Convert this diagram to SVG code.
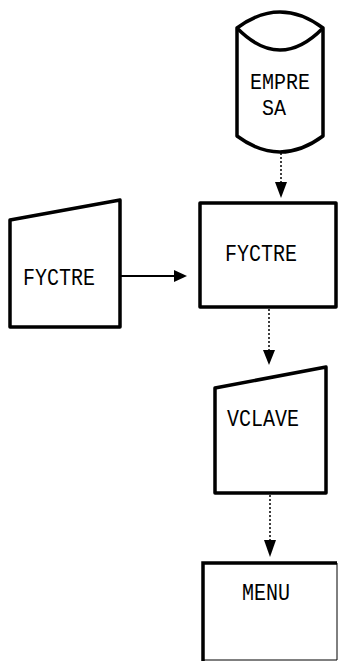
<svg xmlns="http://www.w3.org/2000/svg" width="339" height="661" viewBox="0 0 339 661">
<style>
.shape{fill:#fff;stroke:#000;stroke-width:3.5;stroke-linejoin:round}
.lbl{font-family:"Liberation Mono","DejaVu Sans Mono",monospace;font-size:20px;fill:#000}
.dot{stroke:#000;stroke-width:1.5;stroke-dasharray:2,2;fill:none}
.solid{stroke:#000;stroke-width:2;fill:none}
.head{fill:#000}
</style>
<rect width="339" height="661" fill="#fff"/>
<g id="empresa">
<path class="shape" d="M237,28 Q280,-4 323,28 L323,136 Q280,168 237,136 Z"/>
<path class="shape" d="M237,28 Q280,72 323,28" fill="none"/>
<text class="lbl" transform="translate(250,89) scale(1,1.1)">EMPRE</text>
<text class="lbl" transform="translate(262,115) scale(1,1.1)">SA</text>
</g>
<g id="fyctre-in">
<polygon class="shape" points="10,220 120,200 120,327 10,327"/>
<text class="lbl" transform="translate(23,285) scale(1,1.2)">FYCTRE</text>
</g>
<g id="fyctre">
<rect class="shape" x="200" y="203" width="136" height="104"/>
<text class="lbl" transform="translate(225,261) scale(1,1.2)">FYCTRE</text>
</g>
<g id="vclave">
<polygon class="shape" points="215,388 326,367 326,493 215,493"/>
<text class="lbl" transform="translate(227,426) scale(1,1.2)">VCLAVE</text>
</g>
<g id="menu">
<rect x="203" y="563" width="134" height="97" fill="#fff"/>
<path d="M203,661 L203,563 L337,563" fill="none" stroke="#000" stroke-width="3.5"/>
<path d="M337,563 L337,660 L203,660" fill="none" stroke="#000" stroke-width="1"/>
<text class="lbl" transform="translate(242,600) scale(1,1.2)">MENU</text>
</g>
<g id="connectors">
<line class="dot" x1="281" y1="153" x2="281" y2="183"/>
<polygon class="head" points="275,182 287,182 281,198"/>
<line class="solid" x1="120" y1="276" x2="176" y2="276"/>
<polygon class="head" points="174,270 174,282 187,276"/>
<line class="dot" x1="269" y1="309" x2="269" y2="351"/>
<polygon class="head" points="263,350 275,350 269,365"/>
<line class="dot" x1="270" y1="495" x2="270" y2="541"/>
<polygon class="head" points="264,540 276,540 270,557"/>
</g>
</svg>
